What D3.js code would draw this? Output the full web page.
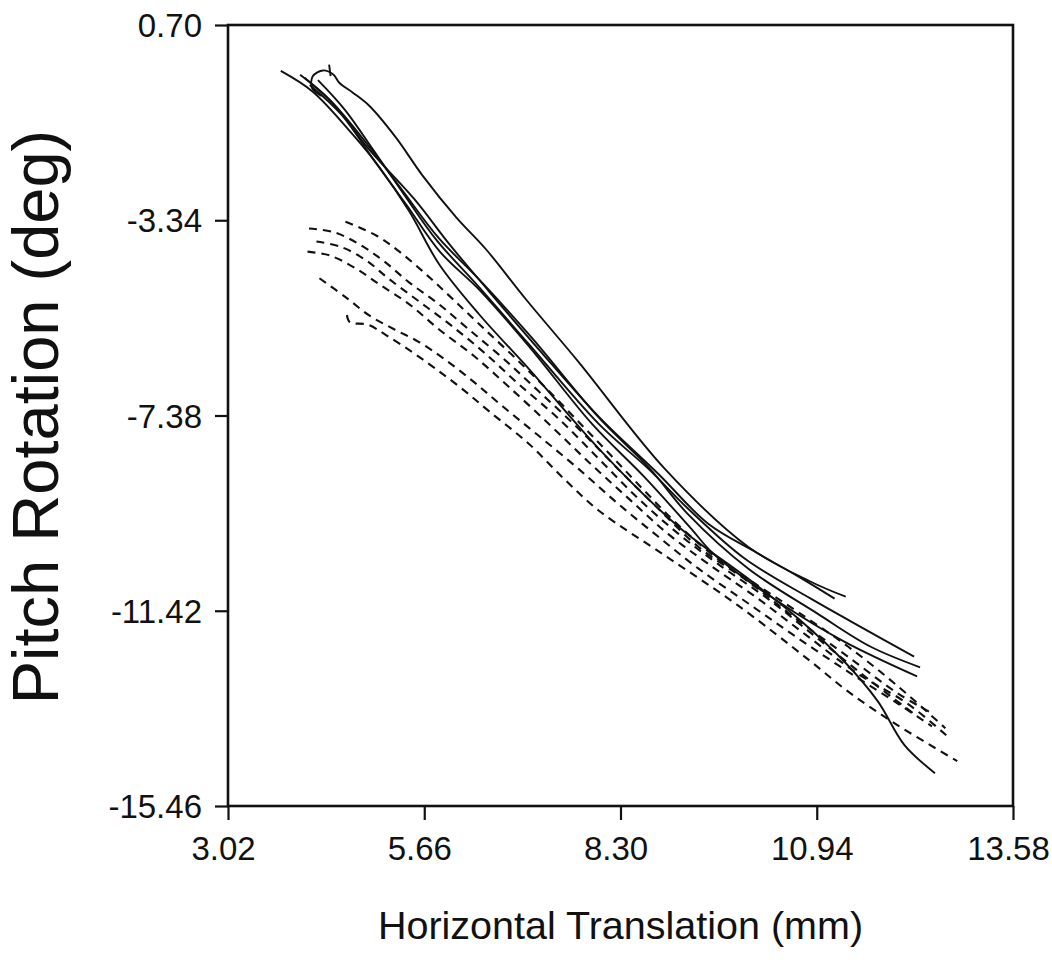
<!DOCTYPE html>
<html>
<head>
<meta charset="utf-8">
<script src="https://cdn.jsdelivr.net/npm/d3@7/dist/d3.min.js"></script>
<style>
body { margin: 0; background: #fff; }
</style>
</head>
<body>
<script>

var w = 1052;
var h = 978;

// axis ticks
var xTicks = [3.02, 5.66, 8.30, 10.94, 13.58];
var yTicks = [0.70, -3.34, -7.38, -11.42, -15.46];

// solid traces: [horizontal translation mm, pitch deg]
var solidLow = [[3.73,-0.25],[4.16,-0.68],[4.70,-1.57],[5.06,-2.25],[5.46,-3.16],[5.86,-4.25],
    [6.40,-5.29],[7.07,-6.42],[8.01,-8.07],[9.08,-9.68],[10.02,-10.76],[10.69,-11.58],
    [11.31,-12.47],[11.76,-13.29],[12.12,-14.20],[12.53,-14.78]];
var solidLoop = [[4.28,-0.77],[4.15,-0.60],[4.16,-0.36],[4.30,-0.24],[4.44,-0.33],[4.52,-0.50],
    [4.70,-0.70],[4.92,-0.97],[5.28,-1.63],[5.63,-2.40],[6.09,-3.28],[6.49,-3.94],[7.03,-4.98],
    [7.74,-6.28],[8.90,-8.49],[10.02,-10.10],[10.86,-10.82],[11.33,-11.13]];
var solidTick = [[4.38,-0.12],[4.40,-0.36]];
var solidB = [[3.99,-0.33],[4.39,-0.85],[4.92,-1.88],[5.53,-2.91],[6.00,-3.84],[6.53,-4.81],
    [7.20,-6.01],[8.01,-7.41],[8.81,-8.59],[9.48,-9.62],[10.11,-10.20],[10.69,-10.71],[11.18,-11.17]];
var solidC = [[4.23,-0.44],[4.59,-1.05],[4.99,-1.92],[5.39,-2.81],[5.82,-3.74],[6.40,-4.73],
    [7.07,-5.91],[8.01,-7.56],[8.68,-8.49],[9.21,-9.31],[9.97,-10.34],[10.86,-11.17],
    [11.62,-11.83],[12.25,-12.37]];
var solidD = [[4.05,-0.39],[4.45,-0.95],[4.90,-1.78],[5.36,-2.71],[5.85,-3.70],[6.42,-4.60],
    [7.10,-5.76],[8.00,-7.41],[8.70,-8.49],[9.20,-9.41],[10.02,-10.55],[10.95,-11.48],
    [11.66,-12.16],[12.33,-12.59]];
var solidE = [[4.12,-0.54],[4.55,-1.16],[4.98,-2.09],[5.42,-3.02],[5.87,-3.99],[6.42,-4.81],
    [7.08,-5.97],[7.92,-7.56],[8.62,-8.65],[9.25,-9.72],[9.55,-10.24],[10.42,-11.23],
    [11.31,-12.06],[12.29,-12.78]];

// dashed traces
var dashA = [[4.60,-3.37],[5.02,-3.66],[5.35,-4.02],[5.70,-4.48],[6.05,-4.98],[6.44,-5.55],
    [6.89,-6.20],[7.34,-6.88],[7.78,-7.58],[8.18,-8.22],[8.63,-8.95],[9.08,-9.65],
    [9.61,-10.35],[10.15,-10.90],[10.69,-11.45],[11.36,-12.16],[12.03,-12.98],[12.67,-13.85]];
var dashB = [[4.11,-3.51],[4.45,-3.59],[4.79,-3.84],[5.12,-4.19],[5.46,-4.63],[5.86,-5.08],
    [6.26,-5.60],[6.73,-6.21],[7.20,-6.88],[7.74,-7.66],[8.27,-8.49],[8.81,-9.31],
    [9.35,-10.10],[10.02,-10.82],[10.69,-11.62],[11.36,-12.37],[12.03,-13.13],[12.49,-13.54]];
var dashC = [[4.21,-3.78],[4.52,-3.88],[4.86,-4.15],[5.19,-4.56],[5.59,-5.02],[6.00,-5.49],
    [6.46,-6.07],[6.93,-6.73],[7.47,-7.45],[8.01,-8.28],[8.54,-9.10],[9.08,-9.83],
    [9.61,-10.45],[10.28,-11.17],[10.95,-11.99],[11.62,-12.82],[12.29,-13.60]];
var dashD = [[4.09,-3.99],[4.39,-4.07],[4.72,-4.32],[5.06,-4.67],[5.46,-5.08],[5.86,-5.60],
    [6.33,-6.15],[6.80,-6.79],[7.34,-7.56],[7.87,-8.34],[8.41,-9.10],[8.94,-9.83],
    [9.48,-10.45],[10.15,-11.17],[10.82,-11.95],[11.49,-12.72],[12.16,-13.34],[12.70,-14.02]];
var dashE = [[4.25,-4.54],[4.61,-4.94],[4.92,-5.31],[5.26,-5.60],[5.59,-5.86],[5.93,-6.21],
    [6.33,-6.69],[6.73,-7.21],[7.20,-7.80],[7.74,-8.49],[8.27,-9.21],[8.81,-9.89],
    [9.35,-10.55],[10.02,-11.27],[10.69,-11.99],[11.36,-12.68],[12.03,-13.34],[12.49,-13.81]];
var dashF = [[4.62,-5.30],[4.66,-5.45],[4.90,-5.50],[5.15,-5.72],[5.50,-6.07],[5.82,-6.42],[6.17,-6.83],
    [6.53,-7.29],[7.07,-7.97],[7.54,-8.69],[8.01,-9.35],[8.90,-10.28],[9.88,-11.31],
    [10.86,-12.47],[11.36,-13.09],[12.03,-13.79],[12.83,-14.53]];

var solids = [solidLow, solidLoop, solidTick, solidB, solidC, solidD, solidE];
var dashes = [dashA, dashB, dashC, dashD, dashE, dashF];

// plot box (the name "top" is taken by window.top)
var boxL = 228, boxR = 1013, boxT = 25, boxB = 806;

var svg = d3.select("body")
    .append("svg")
    .attr("width", w)
    .attr("height", h);

var x = d3.scaleLinear().domain([3.02, 13.58]).range([boxL, boxR]);
var y = d3.scaleLinear().domain([-15.46, 0.70]).range([boxB, boxT]);

var line = d3.line()
    .x(function(d) { return x(d[0]); })
    .y(function(d) { return y(d[1]); })
    .curve(d3.curveCatmullRom.alpha(0.5));

// traces
svg.selectAll(".solid")
    .data(solids)
    .enter()
    .append("path")
    .attr("class", "solid")
    .attr("d", line)
    .attr("fill", "none")
    .attr("stroke", "#111")
    .attr("stroke-width", 1.9);

svg.selectAll(".dash")
    .data(dashes)
    .enter()
    .append("path")
    .attr("class", "dash")
    .attr("d", line)
    .attr("fill", "none")
    .attr("stroke", "#111")
    .attr("stroke-width", 2.1)
    .attr("stroke-dasharray", "8,6");

// frame
svg.append("rect")
    .attr("x", boxL)
    .attr("y", boxT)
    .attr("width", boxR - boxL)
    .attr("height", boxB - boxT)
    .attr("fill", "none")
    .attr("stroke", "#111")
    .attr("stroke-width", 2.6);

// axes, labels with a plain hyphen as in the original
var fmt = function(d) { return d.toFixed(2); };

var xAxis = svg.append("g")
    .attr("transform", "translate(0," + boxB + ")")
    .call(d3.axisBottom(x).tickValues(xTicks).tickSize(14).tickSizeOuter(0).tickFormat(fmt));

var yAxis = svg.append("g")
    .attr("transform", "translate(" + boxL + ",0)")
    .call(d3.axisLeft(y).tickValues(yTicks).tickSize(13).tickSizeOuter(0).tickFormat(fmt));

[xAxis, yAxis].forEach(function(g) {
    g.select(".domain").remove();
    g.selectAll(".tick line").attr("stroke", "#111").attr("stroke-width", 2.2);
    g.selectAll(".tick text")
        .attr("font-family", "'Liberation Sans', Arial, sans-serif")
        .attr("font-size", 33)
        .attr("fill", "#111");
});

xAxis.selectAll(".tick text").attr("x", -5).attr("y", 31).attr("dy", "0.71em");
yAxis.selectAll(".tick text").attr("x", -26).attr("dy", "0.35em");

// axis titles
svg.append("text")
    .attr("x", (boxL + boxR) / 2)
    .attr("y", 939)
    .attr("text-anchor", "middle")
    .attr("font-family", "'Liberation Sans', Arial, sans-serif")
    .attr("font-size", 39.5)
    .attr("fill", "#111")
    .text("Horizontal Translation (mm)");

svg.append("text")
    .attr("transform", "translate(58,417) rotate(-90)")
    .attr("text-anchor", "middle")
    .attr("font-family", "'Liberation Sans', Arial, sans-serif")
    .attr("font-size", 65)
    .attr("fill", "#111")
    .text("Pitch Rotation (deg)");

</script>
</body>
</html>
